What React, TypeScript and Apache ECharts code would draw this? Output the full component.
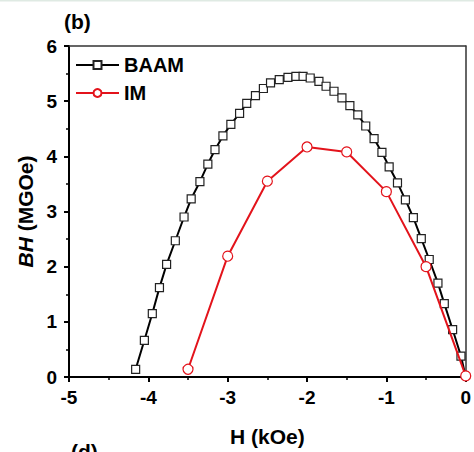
import React, { useEffect, useRef } from "react";
import * as echarts from "echarts";

const baamH = [-4.16, -4.05, -3.95, -3.86, -3.77, -3.66, -3.55, -3.46, -3.35, -3.25, -3.16, -3.06, -2.96, -2.85, -2.76, -2.65, -2.55, -2.46, -2.35, -2.24, -2.14, -2.05, -1.96, -1.85, -1.76, -1.66, -1.56, -1.46, -1.36, -1.26, -1.155, -1.056, -0.965, -0.86, -0.76, -0.66, -0.56, -0.46, -0.35, -0.27, -0.165, -0.06];
const baamBH = [0.14, 0.665, 1.15, 1.62, 2.04, 2.47, 2.9, 3.23, 3.54, 3.86, 4.12, 4.37, 4.58, 4.78, 4.96, 5.1, 5.23, 5.33, 5.39, 5.43, 5.45, 5.45, 5.42, 5.36, 5.27, 5.18, 5.06, 4.92, 4.75, 4.55, 4.32, 4.07, 3.81, 3.52, 3.21, 2.89, 2.51, 2.13, 1.7, 1.33, 0.86, 0.38];
const imH = [-3.5, -3.0, -2.5, -2.0, -1.5, -1.0, -0.5, 0];
const imBH = [0.14, 2.19, 3.55, 4.17, 4.08, 3.36, 2.0, 0.02];

const FONT = "Liberation Sans, Arial, sans-serif";

export default function App() {
  const ref = useRef<HTMLDivElement>(null);
  useEffect(() => {
    document.body.style.margin = "0";
    const chart = echarts.init(ref.current!, null, { renderer: "svg" });
    const baamData: any[] = baamH.map((h, i) => [h, baamBH[i]]);
    baamData.push({ value: [0, 0], symbol: "none" });
    const imData = imH.map((h, i) => [h, imBH[i]]);
    const axisLine = { show: true, lineStyle: { color: "#000", width: 2 } };
    chart.setOption({
      animation: false,
      backgroundColor: "#fff",
      textStyle: { fontFamily: FONT },
      grid: { left: 69, right: 2, top: 46, bottom: 74, containLabel: false },
      legend: {
        orient: "vertical",
        left: 75,
        top: 55,
        padding: 0,
        itemWidth: 43,
        itemHeight: 10,
        itemGap: 8,
        textStyle: { fontFamily: FONT, fontWeight: "bold", fontSize: 20, color: "#000", lineHeight: 20 },
        data: ["BAAM", "IM"],
      },
      xAxis: [
        {
          type: "value",
          min: -5,
          max: 0,
          interval: 1,
          name: "H (kOe)",
          nameLocation: "middle",
          nameGap: 49,
          nameTextStyle: { fontFamily: FONT, fontWeight: "bold", fontSize: 21, color: "#000" },
          axisLine: { ...axisLine, onZero: false },
          axisTick: { show: true, length: 5, lineStyle: { color: "#000", width: 2 } },
          minorTick: { show: true, splitNumber: 2, length: 3, lineStyle: { color: "#000", width: 1.5 } },
          axisLabel: { fontFamily: FONT, fontWeight: "bold", fontSize: 19, color: "#000", margin: 11 },
          splitLine: { show: false },
        },
        {
          type: "value",
          position: "top",
          min: -5,
          max: 0,
          axisLine: { show: true, onZero: false, lineStyle: { color: "#333", width: 1.5 } },
          axisTick: { show: false },
          axisLabel: { show: false },
          splitLine: { show: false },
        },
      ],
      yAxis: [
        {
          type: "value",
          min: 0,
          max: 6,
          interval: 1,
          name: "{i|BH} (MGOe)",
          nameLocation: "middle",
          nameGap: 30,
          nameTextStyle: {
            fontFamily: FONT,
            fontWeight: "bold",
            fontSize: 21,
            color: "#000",
            rich: { i: { fontFamily: FONT, fontWeight: "bold", fontStyle: "italic", fontSize: 21, color: "#000" } },
          },
          axisLine: { ...axisLine, onZero: false },
          axisTick: { show: true, length: 5, lineStyle: { color: "#000", width: 2 } },
          minorTick: { show: true, splitNumber: 2, length: 3, lineStyle: { color: "#000", width: 1.5 } },
          axisLabel: { fontFamily: FONT, fontWeight: "bold", fontSize: 19, color: "#000", margin: 12 },
          splitLine: { show: false },
        },
        {
          type: "value",
          position: "right",
          min: 0,
          max: 6,
          axisLine: { show: true, onZero: false, lineStyle: { color: "#333", width: 1.5 } },
          axisTick: { show: false },
          axisLabel: { show: false },
          splitLine: { show: false },
        },
      ],
      series: [
        {
          name: "BAAM",
          type: "line",
          data: baamData,
          symbol: "rect",
          symbolSize: 8,
          color: "#000",
          lineStyle: { color: "#000", width: 2 },
          itemStyle: { color: "#fff", borderColor: "#222", borderWidth: 1.2 },
          z: 3,
        },
        {
          name: "IM",
          type: "line",
          data: imData,
          symbol: "circle",
          symbolSize: 10,
          color: "#e3131b",
          lineStyle: { color: "#e3131b", width: 2 },
          itemStyle: { color: "#fff", borderColor: "#e3131b", borderWidth: 1.2 },
          z: 4,
        },
      ],
      graphic: [
        { type: "rect", shape: { x: 0, y: 0, width: 474, height: 1.5 }, style: { fill: "#dfeae3" } },
        { type: "text", left: 64, top: 11, style: { text: "(b)", fontFamily: FONT, fontWeight: "bold", fontSize: 21, fill: "#000" } },
        { type: "text", left: 71, top: 441, style: { text: "(d)", fontFamily: FONT, fontWeight: "bold", fontSize: 21, fill: "#000" } },
      ],
    });
    return () => chart.dispose();
  }, []);
  return <div ref={ref} style={{ width: 474, height: 452 }} />;
}
